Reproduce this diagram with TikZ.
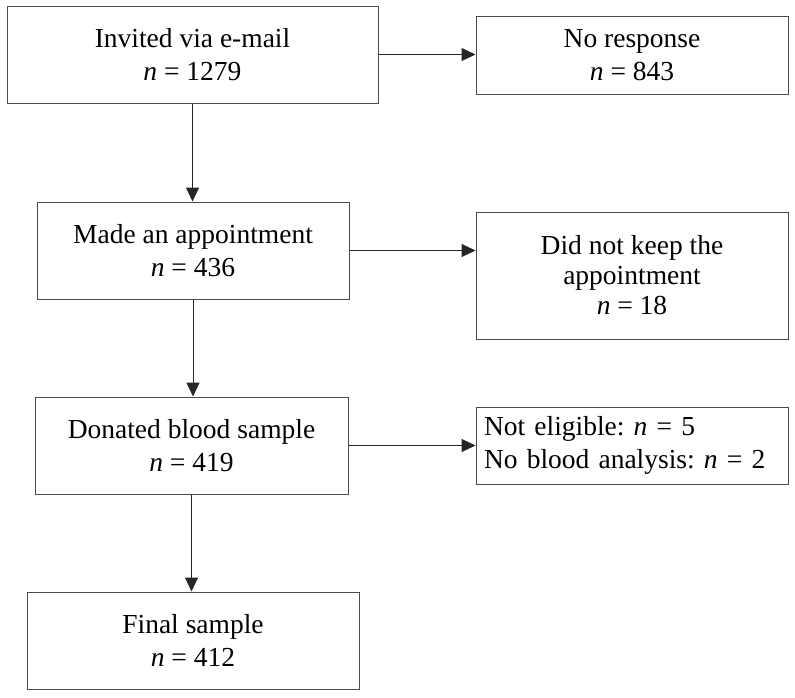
\documentclass[tikz,border=0pt]{standalone}
\usepackage{fontspec}
\setmainfont{Liberation Serif}
\usetikzlibrary{arrows.meta}
\frenchspacing
\tikzset{
  box/.style={draw=black!70, line width=1pt, fill=white, align=center, inner sep=0pt,
    font=\fontsize{27.5}{33}\selectfont\frenchspacing},
  conn/.style={draw=black!85, line width=1pt, -{Triangle[length=14pt,width=13pt]}}
}
\begin{document}
\begin{tikzpicture}[x=1pt,y=-1pt]
\useasboundingbox (0,0) rectangle (795,697);
\node[box, minimum width=371pt, minimum height=97pt] (b1) at (192.5,54.5) {Invited via e-mail\\\textit{n} = 1279};
\node[box, minimum width=312pt, minimum height=78pt] (nr) at (632,55) {No response\\\textit{n} = 843};
\node[box, minimum width=312pt, minimum height=97pt] (b2) at (193,250.5) {Made an appointment\\\textit{n} = 436};
\node[box, minimum width=312pt, minimum height=127pt, font=\fontsize{27.5}{30}\selectfont\frenchspacing] (dn) at (632,275.5) {Did not keep the\\appointment\\\textit{n} = 18};
\node[box, minimum width=312pt, minimum height=77pt, text width=296pt, align=left] (ne) at (632,445.5) {Not eligible: \textit{n} = 5\\No blood analysis: \textit{n} = 2};
\node[box, minimum width=313pt, minimum height=97pt] (b3) at (191.5,445.5) {Donated blood sample\\\textit{n} = 419};
\node[box, minimum width=332pt, minimum height=97pt] (b4) at (193,640.5) {Final sample\\\textit{n} = 412};
\draw[conn] (b1.east) -- (b1.east -| nr.west);
\draw[conn] (b2.east) -- (b2.east -| dn.west);
\draw[conn] (b3.east) -- (b3.east -| ne.west);
\draw[conn] (b1.south) -- (b1.south |- b2.north);
\draw[conn] (b2.south) -- (b2.south |- b3.north);
\draw[conn] (b3.south) -- (b3.south |- b4.north);
\end{tikzpicture}
\end{document}
